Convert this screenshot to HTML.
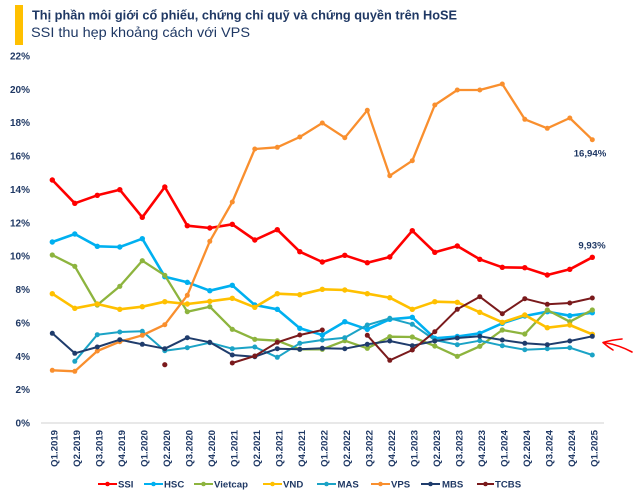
<!DOCTYPE html>
<html>
<head>
<meta charset="utf-8">
<style>
  html,body{margin:0;padding:0;background:#fff;}
  svg{display:block;}
  text{font-family:"Liberation Sans","Noto Sans CJK SC",sans-serif;}
  .ax{font-size:9.6px;font-weight:bold;fill:#1F3864;}
  .yl{font-size:10px;font-weight:bold;fill:#1F3864;}
  .lg{font-size:9.6px;font-weight:bold;fill:#1F3864;}
</style>
</head>
<body>
<svg width="637" height="499" viewBox="0 0 637 499" xmlns="http://www.w3.org/2000/svg">
  <defs>
    <marker id="mSSI" markerUnits="userSpaceOnUse" markerWidth="8" markerHeight="8" refX="4" refY="4"><circle cx="4" cy="4" r="2.7" fill="#FF0000"/></marker>
    <marker id="mHSC" markerUnits="userSpaceOnUse" markerWidth="8" markerHeight="8" refX="4" refY="4"><circle cx="4" cy="4" r="2.7" fill="#00B0F0"/></marker>
    <marker id="mVC" markerUnits="userSpaceOnUse" markerWidth="8" markerHeight="8" refX="4" refY="4"><circle cx="4" cy="4" r="2.6" fill="#8DB43E"/></marker>
    <marker id="mVND" markerUnits="userSpaceOnUse" markerWidth="8" markerHeight="8" refX="4" refY="4"><circle cx="4" cy="4" r="2.7" fill="#FFC000"/></marker>
    <marker id="mMAS" markerUnits="userSpaceOnUse" markerWidth="8" markerHeight="8" refX="4" refY="4"><circle cx="4" cy="4" r="2.5" fill="#1BA3C6"/></marker>
    <marker id="mVPS" markerUnits="userSpaceOnUse" markerWidth="8" markerHeight="8" refX="4" refY="4"><circle cx="4" cy="4" r="2.5" fill="#F98F2E"/></marker>
    <marker id="mMBS" markerUnits="userSpaceOnUse" markerWidth="8" markerHeight="8" refX="4" refY="4"><circle cx="4" cy="4" r="2.5" fill="#1F3C6C"/></marker>
    <marker id="mTC" markerUnits="userSpaceOnUse" markerWidth="8" markerHeight="8" refX="4" refY="4"><circle cx="4" cy="4" r="2.5" fill="#7A1A1C"/></marker>
  </defs>

  <rect x="0" y="0" width="637" height="499" fill="#ffffff"/>

  <!-- Title -->
  <rect x="15" y="5" width="8" height="40" fill="#FFC000"/>
  <text x="32" y="19.5" font-size="13" font-weight="bold" fill="#1F3864" textLength="425" lengthAdjust="spacingAndGlyphs">Thị phần môi giới cổ phiếu, chứng chỉ quỹ và chứng quyền trên HoSE</text>
  <text x="31" y="37" font-size="13.8" fill="#1F3864" textLength="219" lengthAdjust="spacingAndGlyphs">SSI thu hẹp khoảng cách với VPS</text>

  <!-- Y axis labels -->
  <g class="yl" text-anchor="end">
    <text x="30" y="59.5">22%</text>
    <text x="30" y="92.9">20%</text>
    <text x="30" y="126.2">18%</text>
    <text x="30" y="159.6">16%</text>
    <text x="30" y="193">14%</text>
    <text x="30" y="226.3">12%</text>
    <text x="30" y="259.7">10%</text>
    <text x="30" y="293.1">8%</text>
    <text x="30" y="326.4">6%</text>
    <text x="30" y="359.8">4%</text>
    <text x="30" y="393.2">2%</text>
    <text x="30" y="426.5">0%</text>
  </g>

  <!-- X axis line -->
  <line x1="41" y1="423" x2="604" y2="423" stroke="#D9D9D9" stroke-width="1.3"/>

  <!-- X labels -->
  <g class="ax" text-anchor="end">
    <text transform="translate(57.3,430) rotate(-90)">Q1.2019</text>
    <text transform="translate(79.8,430) rotate(-90)">Q2.2019</text>
    <text transform="translate(102.3,430) rotate(-90)">Q3.2019</text>
    <text transform="translate(124.8,430) rotate(-90)">Q4.2019</text>
    <text transform="translate(147.3,430) rotate(-90)">Q1.2020</text>
    <text transform="translate(169.8,430) rotate(-90)">Q2.2020</text>
    <text transform="translate(192.3,430) rotate(-90)">Q3.2020</text>
    <text transform="translate(214.8,430) rotate(-90)">Q4.2020</text>
    <text transform="translate(237.3,430) rotate(-90)">Q1.2021</text>
    <text transform="translate(259.8,430) rotate(-90)">Q2.2021</text>
    <text transform="translate(282.3,430) rotate(-90)">Q3.2021</text>
    <text transform="translate(304.8,430) rotate(-90)">Q4.2021</text>
    <text transform="translate(327.3,430) rotate(-90)">Q1.2022</text>
    <text transform="translate(349.8,430) rotate(-90)">Q2.2022</text>
    <text transform="translate(372.3,430) rotate(-90)">Q3.2022</text>
    <text transform="translate(394.8,430) rotate(-90)">Q4.2022</text>
    <text transform="translate(417.3,430) rotate(-90)">Q1.2023</text>
    <text transform="translate(439.8,430) rotate(-90)">Q2.2023</text>
    <text transform="translate(462.3,430) rotate(-90)">Q3.2023</text>
    <text transform="translate(484.8,430) rotate(-90)">Q4.2023</text>
    <text transform="translate(507.3,430) rotate(-90)">Q1.2024</text>
    <text transform="translate(529.8,430) rotate(-90)">Q2.2024</text>
    <text transform="translate(552.3,430) rotate(-90)">Q3.2024</text>
    <text transform="translate(574.8,430) rotate(-90)">Q4.2024</text>
    <text transform="translate(597.3,430) rotate(-90)">Q1.2025</text>
  </g>

  <!-- Series -->
  <g fill="none" stroke-linejoin="round" stroke-linecap="round">
    <polyline stroke="#FF0000" stroke-width="2.6" marker-start="url(#mSSI)" marker-mid="url(#mSSI)" marker-end="url(#mSSI)"
      points="52.3,180 74.8,203.3 97.3,195.3 119.8,189.7 142.3,217.3 164.8,187 187.3,225.7 209.8,228 232.3,224.3 254.8,240 277.3,229.7 299.8,251.7 322.3,262 344.8,255.3 367.3,262.7 389.8,257 412.3,230.7 434.8,252.3 457.3,246 479.8,259.3 502.3,267.3 524.8,267.7 547.3,275 569.8,269.3 592.3,257.3"/>
    <polyline stroke="#00B0F0" stroke-width="2.6" marker-start="url(#mHSC)" marker-mid="url(#mHSC)" marker-end="url(#mHSC)"
      points="52.3,242 74.8,234 97.3,246.3 119.8,247 142.3,238.7 164.8,276.7 187.3,282.3 209.8,290.7 232.3,285.3 254.8,305 277.3,309.3 299.8,328.3 322.3,335 344.8,321.7 367.3,329.3 389.8,319.3 412.3,317.3 434.8,338.3 457.3,336.5 479.8,333.3 502.3,323.3 524.8,316 547.3,311.7 569.8,315.7 592.3,312.7"/>
    <polyline stroke="#8DB43E" stroke-width="2.3" marker-start="url(#mVC)" marker-mid="url(#mVC)" marker-end="url(#mVC)"
      points="52.3,255 74.8,266.3 97.3,305 119.8,286.3 142.3,260.7 164.8,275.3 187.3,311.7 209.8,306.7 232.3,329.3 254.8,339.3 277.3,340.7 299.8,349.3 322.3,349.3 344.8,340.7 367.3,348.3 389.8,336.7 412.3,337 434.8,346 457.3,356.3 479.8,346.3 502.3,330 524.8,334 547.3,310 569.8,321.7 592.3,310"/>
    <polyline stroke="#FFC000" stroke-width="2.6" marker-start="url(#mVND)" marker-mid="url(#mVND)" marker-end="url(#mVND)"
      points="52.3,293.7 74.8,308.3 97.3,304 119.8,309.3 142.3,306.7 164.8,301.7 187.3,304 209.8,301.3 232.3,298.3 254.8,307.3 277.3,293.7 299.8,294.7 322.3,289.3 344.8,290 367.3,293.7 389.8,297.7 412.3,309.3 434.8,301.7 457.3,302.3 479.8,312.3 502.3,322.3 524.8,315 547.3,327.7 569.8,325 592.3,334.3"/>
    <polyline stroke="#1BA3C6" stroke-width="2" marker-start="url(#mMAS)" marker-mid="url(#mMAS)" marker-end="url(#mMAS)"
      points="74.8,361.3 97.3,334.7 119.8,332 142.3,331.3 164.8,350.7 187.3,347.7 209.8,342.7 232.3,348.7 254.8,347 277.3,357.3 299.8,343.3 322.3,340 344.8,337.7 367.3,325 389.8,318.3 412.3,324.3 434.8,340 457.3,344.7 479.8,340.7 502.3,345.7 524.8,349.7 547.3,348.7 569.8,347.7 592.3,355"/>
    <polyline stroke="#F98F2E" stroke-width="2.3" marker-start="url(#mVPS)" marker-mid="url(#mVPS)" marker-end="url(#mVPS)"
      points="52.3,370.3 74.8,371.3 97.3,351 119.8,341.7 142.3,335.3 164.8,324.7 187.3,295.3 209.8,241.3 232.3,202 254.8,149 277.3,147.3 299.8,137 322.3,123 344.8,137.7 367.3,110.3 389.8,175.7 412.3,160.7 434.8,105 457.3,90 479.8,90 502.3,84 524.8,119.3 547.3,128.3 569.8,118 592.3,139.7"/>
    <polyline stroke="#1F3C6C" stroke-width="2" marker-start="url(#mMBS)" marker-mid="url(#mMBS)" marker-end="url(#mMBS)"
      points="52.3,333.3 74.8,353.3 97.3,347 119.8,339.7 142.3,344.3 164.8,348.7 187.3,337.7 209.8,342.3 232.3,355 254.8,356.7 277.3,348.7 299.8,349.3 322.3,348.3 344.8,348.7 367.3,344.3 389.8,341 412.3,345.7 434.8,341 457.3,338 479.8,336.3 502.3,340 524.8,343.3 547.3,344.7 569.8,341 592.3,336.3"/>
    <circle cx="164.8" cy="364.7" r="2.6" fill="#7A1A1C" stroke="none"/>
    <polyline stroke="#7A1A1C" stroke-width="2" marker-start="url(#mTC)" marker-mid="url(#mTC)" marker-end="url(#mTC)"
      points="232.3,363 254.8,356 277.3,342.3 299.8,335 322.3,330"/>
    <polyline stroke="#7A1A1C" stroke-width="2" marker-start="url(#mTC)" marker-mid="url(#mTC)" marker-end="url(#mTC)"
      points="367.3,335.3 389.8,360.3 412.3,350 434.8,331.7 457.3,309.3 479.8,296.7 502.3,313.7 524.8,298.7 547.3,304.3 569.8,303 592.3,298"/>
  </g>

  <!-- Data labels -->
  <text x="590" y="156.5" text-anchor="middle" font-size="9.6" font-weight="bold" fill="#1F3864">16,94%</text>
  <text x="592" y="248.5" text-anchor="middle" font-size="9.6" font-weight="bold" fill="#1F3864">9,93%</text>

  <!-- Red arrow -->
  <g fill="none" stroke="#FF0000" stroke-width="1.6" stroke-linecap="round" stroke-linejoin="round">
    <path d="M622,339 Q611,340 603,342.5 Q608,347 613,350"/>
    <path d="M604,342.5 Q619,345 632,352"/>
  </g>

  <!-- Legend -->
  <g stroke-width="2">
    <line x1="98" y1="484" x2="117" y2="484" stroke="#FF0000"/><circle cx="107.5" cy="484" r="2.3" fill="#FF0000"/>
    <line x1="144" y1="484" x2="163" y2="484" stroke="#00B0F0"/><circle cx="153.5" cy="484" r="2.3" fill="#00B0F0"/>
    <line x1="194" y1="484" x2="213" y2="484" stroke="#8DB43E"/><circle cx="203.5" cy="484" r="2.3" fill="#8DB43E"/>
    <line x1="263" y1="484" x2="282" y2="484" stroke="#FFC000"/><circle cx="272.5" cy="484" r="2.3" fill="#FFC000"/>
    <line x1="317" y1="484" x2="336" y2="484" stroke="#1BA3C6"/><circle cx="326.5" cy="484" r="2.3" fill="#1BA3C6"/>
    <line x1="371" y1="484" x2="390" y2="484" stroke="#F98F2E"/><circle cx="380.5" cy="484" r="2.3" fill="#F98F2E"/>
    <line x1="421" y1="484" x2="440" y2="484" stroke="#1F3C6C"/><circle cx="430.5" cy="484" r="2.3" fill="#1F3C6C"/>
    <line x1="477" y1="484" x2="494" y2="484" stroke="#7A1A1C"/><circle cx="485.5" cy="484" r="2.3" fill="#7A1A1C"/>
  </g>
  <g class="lg">
    <text x="118" y="487.5">SSI</text>
    <text x="164" y="487.5">HSC</text>
    <text x="214" y="487.5">Vietcap</text>
    <text x="283" y="487.5">VND</text>
    <text x="337.5" y="487.5">MAS</text>
    <text x="391" y="487.5">VPS</text>
    <text x="442" y="487.5">MBS</text>
    <text x="495" y="487.5">TCBS</text>
  </g>
</svg>
</body>
</html>
